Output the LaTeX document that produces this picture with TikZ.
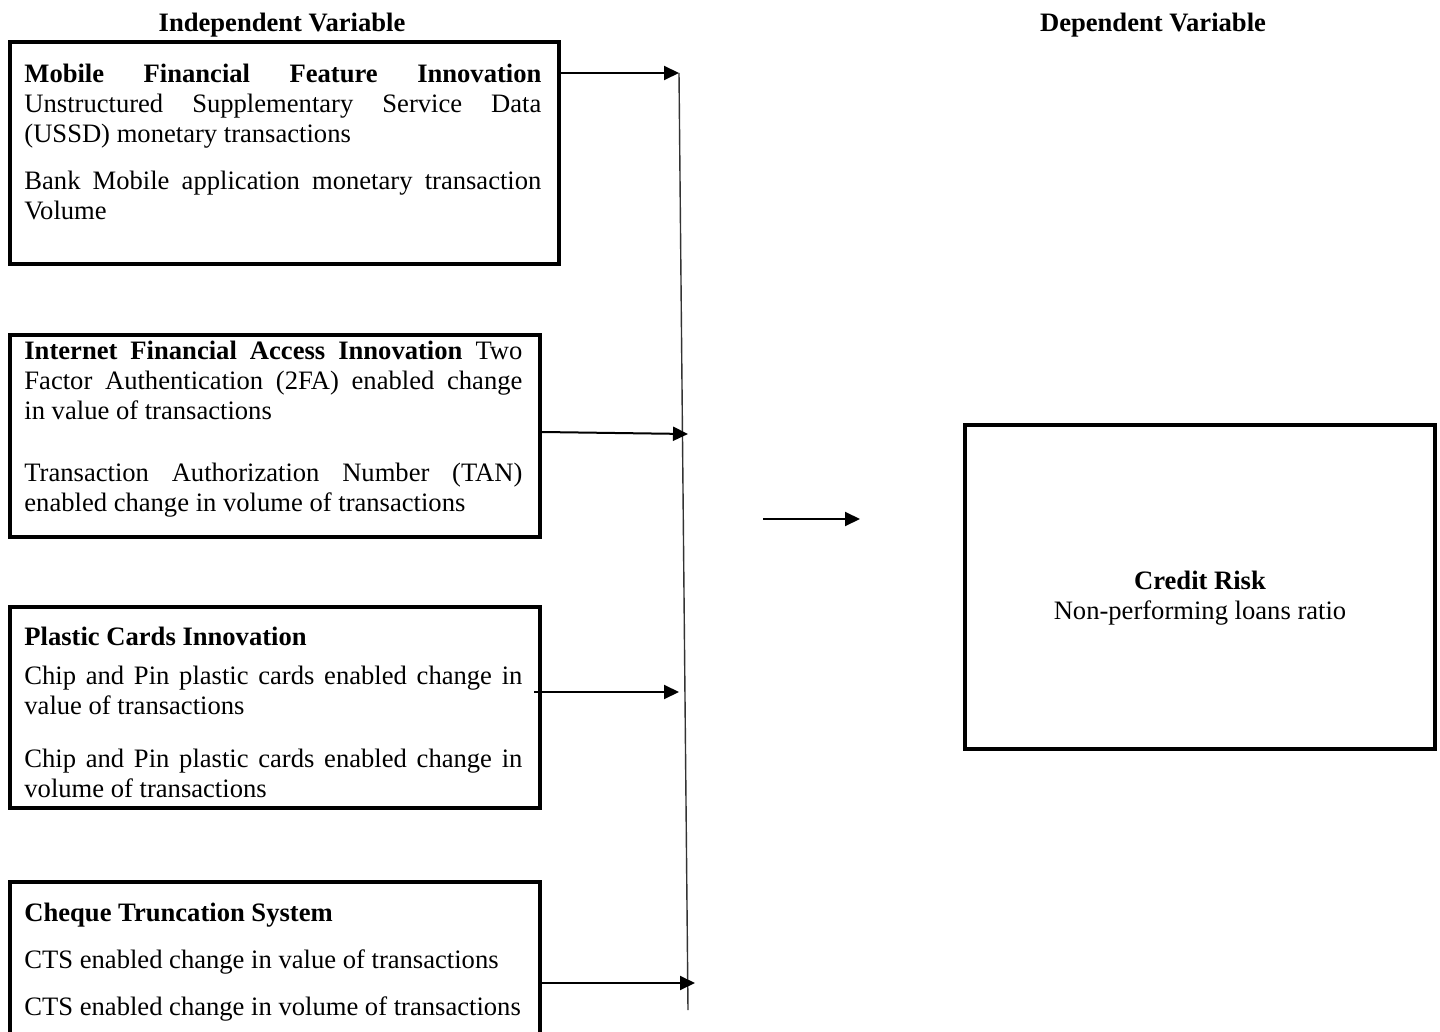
\documentclass[tikz,border=0pt]{standalone}
\usepackage{fontspec}
\setmainfont{Liberation Serif}
\usetikzlibrary{arrows.meta}
\hyphenpenalty=10000
\exhyphenpenalty=10000
\tikzset{
  varbox/.style={draw, line width=2pt, anchor=north west, inner sep=0pt},
  vartext/.style={anchor=north west, inner sep=0pt, align=justify,
    font=\fontsize{13.3}{15}\selectfont},
  head/.style={font=\fontsize{13.3}{15}\selectfont\bfseries},
  arr/.style={-{Triangle[length=7.5pt,width=7pt]}, line width=1pt},
}

\begin{document}
\begin{tikzpicture}[x=0.5pt, y=-0.5pt]
  \useasboundingbox (0,0) rectangle (1440,1032);
  % headings
  \node[head] (indep) at (282,25) {Independent Variable};
  \node[head] (dep) at (1153,25) {Dependent Variable};
  % independent variables
  \node[varbox, minimum width=274.5pt, minimum height=111pt] (mob) at (8,40) {};
  \node[vartext, text width=258.5pt] (mobtxt) at (24,64)
    {\textbf{Mobile Financial Feature Innovation}\linebreak
     Unstructured Supplementary Service Data\linebreak
     (USSD) monetary transactions\par\vspace{8.5pt}
     Bank Mobile application monetary transaction\linebreak Volume};
  \node[varbox, minimum width=265pt, minimum height=101pt] (int) at (8,333) {};
  \node[vartext, text width=249pt] (inttxt) at (24,341)
    {\textbf{Internet Financial Access Innovation} Two\linebreak
     Factor Authentication (2FA) enabled change\linebreak
     in value of transactions\par\vspace{16pt}
     Transaction Authorization Number (TAN)\linebreak
     enabled change in volume of transactions};
  \node[varbox, minimum width=265pt, minimum height=100.5pt] (card) at (8,605) {};
  \node[vartext, text width=249pt] (cardtxt) at (24,627)
    {\textbf{Plastic Cards Innovation}\par\vspace{4.5pt}
     Chip and Pin plastic cards enabled change in\linebreak
     value of transactions\par\vspace{11.5pt}
     Chip and Pin plastic cards enabled change in\linebreak
     volume of transactions};
  \node[varbox, minimum width=265pt, minimum height=100pt] (cts) at (8,880) {};
  \node[vartext, text width=249pt] (ctstxt) at (24,903)
    {\textbf{Cheque Truncation System}\par\vspace{8.5pt}
     CTS enabled change in value of transactions\par\vspace{8.5pt}
     CTS enabled change in volume of transactions};
  % dependent variable
  \node[draw, line width=2pt, minimum width=235pt, minimum height=162pt] (risk)
    at (1200,587) {};
  \node[align=center, inner sep=0pt, font=\fontsize{13.3}{15}\selectfont] (risktxt)
    at ([yshift=-5.5pt]risk.center) {\textbf{Credit Risk}\\Non-performing loans ratio};
  % connectors
  \coordinate (top) at (679,73);
  \coordinate (bot) at (688,1010);
  \coordinate (in2) at (688,434);
  \coordinate (in3) at (679,692);
  \coordinate (in4) at (695,983);
  \coordinate (fromx) at (763,519);
  \coordinate (tox) at (860,519);
  \draw[line width=0.7pt, black!80] (top) -- (bot);
  \draw[arr] (mob.east |- top) -- (top);
  \draw[arr] ([yshift=2pt]int.east) -- (in2);
  \draw[arr] (card.east |- in3) ++(-4pt,0) -- (in3);
  \draw[arr] (cts.east |- in4) -- (in4);
  \draw[arr] (fromx) -- (tox);
\end{tikzpicture}
\end{document}
